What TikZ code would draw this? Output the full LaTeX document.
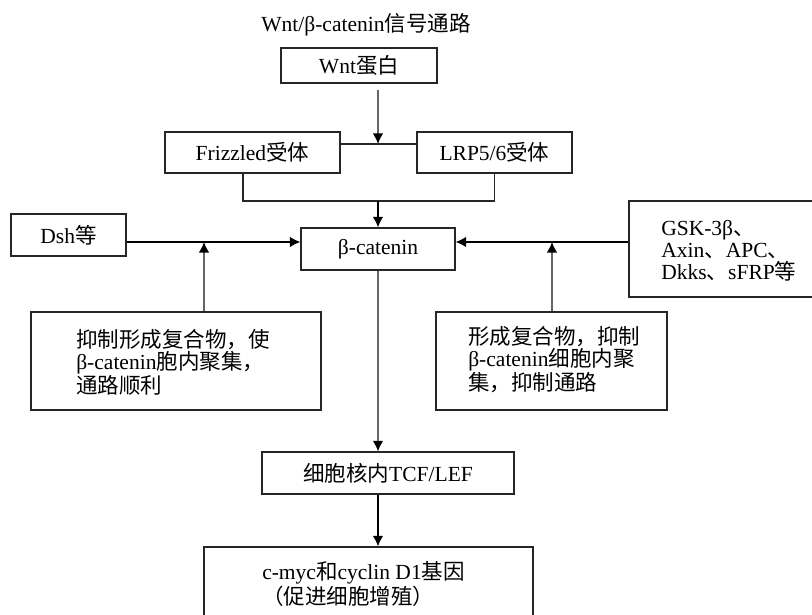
\documentclass[tikz,border=0pt]{standalone}
\usepackage{fontspec}
\setmainfont{Liberation Serif}
\newfontfamily\cjkfont{Noto Sans CJK SC}
\newcommand{\zh}[1]{{\cjkfont #1}}
\usepackage{tikz}
\usetikzlibrary{shapes,arrows,arrows.meta,positioning,calc}
\def\unitpx{0.025cm}
\tikzstyle{block} = [draw=black!85, rectangle, line width=0.9pt, inner sep=0pt, text=black, align=center]
\tikzstyle{txt} = [inner sep=0pt, anchor=west, align=left, text=black]
\tikzstyle{arr} = [draw=black, line width=0.9pt, -{Latex[length=7.5pt,width=7.5pt]}]
\tikzstyle{garr} = [draw=black!60, line width=1.1pt, -{Latex[length=7.5pt,width=7.5pt,color=black]}]

\begin{document}
\begin{tikzpicture}[x=0.025cm, y=-0.025cm]
    \fontsize{15.3}{15.6}\selectfont
    \useasboundingbox (0,0) rectangle (812,615);
    \clip (0,0) rectangle (812,615);

    \node at (366,25) [inner sep=0pt, name=title] {Wnt/β-catenin\zh{信号通路}};
    \node at (359,65.5) [block, name=wnt, minimum width=156*\unitpx, minimum height=35*\unitpx] {Wnt\zh{蛋白}};
    \node at (252.5,152.5) [block, name=fzd, minimum width=175*\unitpx, minimum height=41*\unitpx] {Frizzled\zh{受体}};
    \node at (494.5,152.5) [block, name=lrp, minimum width=155*\unitpx, minimum height=41*\unitpx] {LRP5/6\zh{受体}};

    \node at (68.5,235) [block, name=dsh, minimum width=115*\unitpx, minimum height=42*\unitpx] {Dsh\zh{等}};
    \node at (378,249) [block, name=bcat, minimum width=154*\unitpx, minimum height=42*\unitpx] {β-catenin};
    \node at (729,249) [block, name=gsk, minimum width=200*\unitpx, minimum height=96*\unitpx] {};
    \node at (661,250.5) [txt, name=gsktext] {GSK-3β\zh{、}\\Axin\zh{、}APC\zh{、}\\Dkks\zh{、}sFRP\zh{等}};

    \node at (176,361) [block, name=prom, minimum width=290*\unitpx, minimum height=98*\unitpx] {};
    \node at (76,362.5) [txt, name=promtext] {\zh{抑制形成复合物，使}\\β-catenin\zh{胞内聚集，}\\\zh{通路顺利}};
    \node at (551.5,361) [block, name=inhb, minimum width=231*\unitpx, minimum height=98*\unitpx] {};
    \node at (468,359.5) [txt, name=inhbtext] {\zh{形成复合物，抑制}\\β-catenin\zh{细胞内聚}\\\zh{集，抑制通路}};

    \node at (388,473) [block, name=tcf, minimum width=252*\unitpx, minimum height=42*\unitpx] {\zh{细胞核内}TCF/LEF};
    \node at (368.5,600) [block, name=gene, minimum width=329*\unitpx, minimum height=106*\unitpx] {};
    \node at (262,584) [txt, name=genetext] {c-myc\zh{和}cyclin D1\zh{基因}\\\zh{（促进细胞增殖）}};

	% receptors
	\coordinate (rj) at (378,144);
	\coordinate (mj) at (378,201);
	\draw [garr] ($(wnt.south -| rj) + (0,6)$) -- (rj);
	\draw [draw=black!85, line width=0.9pt] (fzd.east |- rj) -- (lrp.west |- rj);
	\draw [draw=black!85, line width=0.9pt] ($(fzd.south) + (-9.5,0)$) |- (lrp.south |- mj) -- (lrp.south);
	\draw [arr] (mj) -- (bcat.north);

	% side inputs
	\coordinate (lj) at (204,242);
	\coordinate (rj2) at (552,242);
	\draw [arr] (dsh.east |- lj) -- (bcat.west |- lj);
	\draw [garr] (prom.north -| lj) -- (lj);
	\draw [arr] (gsk.west |- rj2) -- (bcat.east |- rj2);
	\draw [garr] (inhb.north -| rj2) -- (rj2);

	\draw [garr] (bcat.south) -- (bcat.south |- tcf.north);
	\draw [arr] (bcat.south |- tcf.south) -- (bcat.south |- gene.north);

\end{tikzpicture}
\end{document}
